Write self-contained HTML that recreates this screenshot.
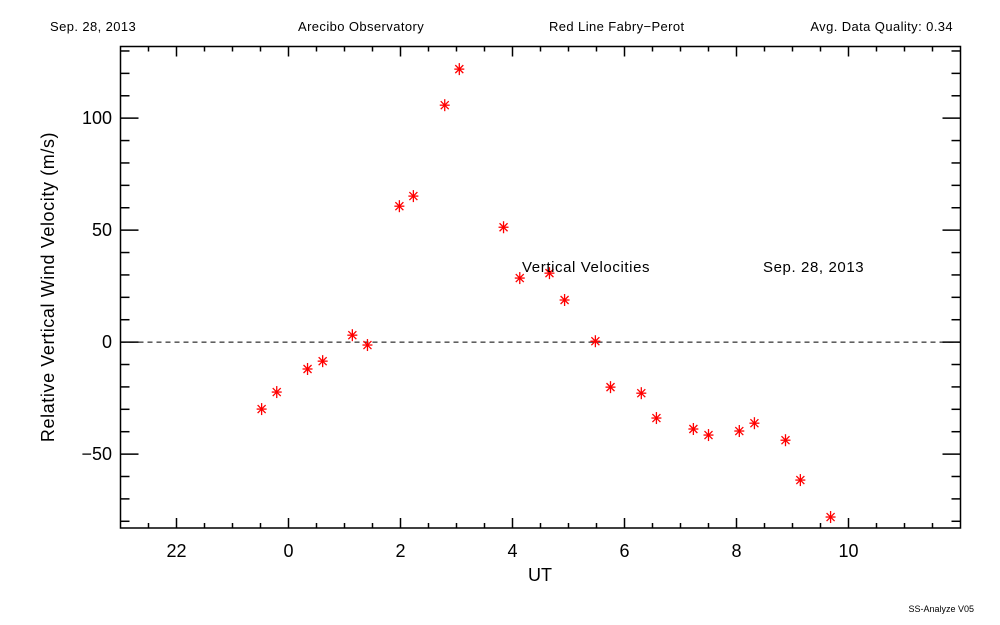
<!DOCTYPE html>
<html><head><meta charset="utf-8"><style>
body{margin:0;background:#fff;}
svg{display:block;font-family:"Liberation Sans","DejaVu Sans",sans-serif;}
</style></head><body>
<svg id="chart" width="1000" height="625" viewBox="0 0 1000 625">
<text x="50" y="31" font-size="13" letter-spacing="0.4">Sep. 28, 2013</text>
<text x="298" y="31" font-size="13" letter-spacing="0.4">Arecibo Observatory</text>
<text x="549" y="31" font-size="13" letter-spacing="0.4">Red Line Fabry−Perot</text>
<text x="953" y="31" font-size="13" letter-spacing="0.4" text-anchor="end">Avg. Data Quality: 0.34</text>
<rect x="120.5" y="46.5" width="840" height="481.5" fill="none" stroke="#000" stroke-width="1.5"/>
<g id="ticks"></g>
<g id="pts"></g>
<text x="522" y="272" font-size="15" letter-spacing="0.6">Vertical Velocities</text>
<text x="763" y="272" font-size="15" letter-spacing="0.6">Sep. 28, 2013</text>
<text x="540" y="581" font-size="18" text-anchor="middle">UT</text>
<text transform="translate(54,287) rotate(-90)" font-size="18" letter-spacing="0.6" text-anchor="middle">Relative Vertical Wind Velocity (m/s)</text>
<text x="974" y="612" font-size="9" text-anchor="end">SS-Analyze V05</text>
</svg>
<script>
const times=[-0.48,-0.21,0.34,0.61,1.14,1.41,1.98,2.23,2.79,3.05,3.84,4.13,4.66,4.93,5.48,5.75,6.30,6.57,7.23,7.50,8.05,8.32,8.875,9.14,9.68];
const velocities=[-29.9,-22.3,-12,-8.5,3.1,-1.3,60.7,65.2,105.8,121.9,51.3,28.6,30.8,18.8,0.4,-20.1,-22.8,-33.9,-38.8,-41.5,-39.7,-36.2,-43.8,-61.6,-78.1];
const xTickVals=[-2,0,2,4,6,8,10];
const xTickLabels=["22","0","2","4","6","8","10"];
const yTickVals=[-50,0,50,100];
const yTickLabels=["−50","0","50","100"];
const X0=-3,X1=12,Y0=-83,Y1=132;
const L=120.5,R=960.5,T=46.5,B=528;
function sx(v){return L+(v-X0)/(X1-X0)*(R-L);}
function sy(v){return B-(v-Y0)/(Y1-Y0)*(B-T);}
const NS="http://www.w3.org/2000/svg";
function mk(tag,attrs,parent){const e=document.createElementNS(NS,tag);for(const k in attrs)e.setAttribute(k,attrs[k]);parent.appendChild(e);return e;}
const tg=document.getElementById('ticks');
for(let v=X0+0.5;v<X1;v+=0.5){
 const major=Math.abs(v/2-Math.round(v/2))<1e-6;const len=major?10:5;const x=sx(v);
 let t=mk('line',{x1:x,x2:x,y1:B,y2:B-len,stroke:'#000','stroke-width':1.5},tg);
 
 
 t=mk('line',{x1:x,x2:x,y1:T,y2:T+len,stroke:'#000','stroke-width':1.5},tg);
 
 
}
xTickVals.forEach((v,i)=>{const t=mk('text',{x:sx(v),y:557,'font-size':18,'text-anchor':'middle'},tg);t.textContent=xTickLabels[i];
 
 });
for(let v=-80;v<=130;v+=10){
 const major=v%50===0;const len=major?18:9;const y=sy(v);
 let t=mk('line',{x1:L,x2:L+len,y1:y,y2:y,stroke:'#000','stroke-width':1.5},tg);
 
 
 t=mk('line',{x1:R,x2:R-len,y1:y,y2:y,stroke:'#000','stroke-width':1.5},tg);
 
 
}
yTickVals.forEach((v,i)=>{const t=mk('text',{x:112,y:sy(v)+6,'font-size':18,'text-anchor':'end'},tg);t.textContent=yTickLabels[i];
 
 });
const zl=mk('line',{x1:L,x2:R,y1:sy(0),y2:sy(0),stroke:'#000','stroke-width':1,'stroke-dasharray':'5,4'},tg);


const pg=document.getElementById('pts');
times.forEach((t,i)=>{const x=sx(t),y=sy(velocities[i]);const g=mk('g',{stroke:'#f00','stroke-width':1.3},pg);
 
 
 mk('line',{x1:x-5,x2:x+5,y1:y,y2:y},g);mk('line',{x1:x,x2:x,y1:y-6,y2:y+6},g);
 mk('line',{x1:x-4,x2:x+4,y1:y-4,y2:y+4},g);mk('line',{x1:x-4,x2:x+4,y1:y+4,y2:y-4},g);});
</script>
</body></html>
